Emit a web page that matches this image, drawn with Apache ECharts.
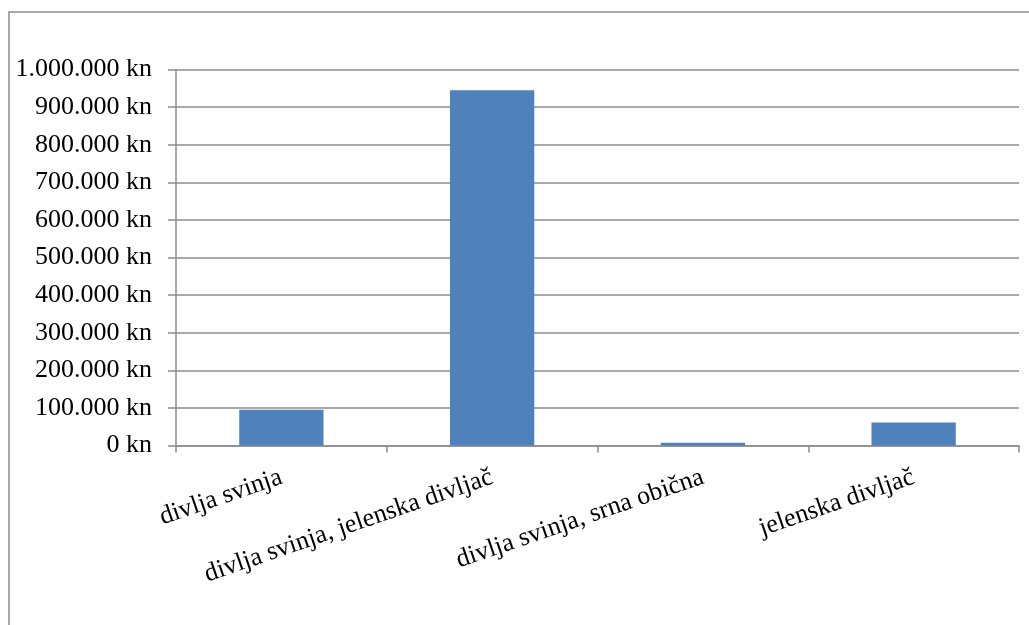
<!DOCTYPE html>
<html>
<head>
<meta charset="utf-8">
<script src="https://cdn.jsdelivr.net/npm/echarts@6/dist/echarts.min.js"></script>
<style>
html,body{margin:0;padding:0;background:#fff;}
#chart{width:1029px;height:625px;}
</style>
</head>
<body>
<div id="chart"></div>
<script>
const categories = ['divlja svinja', 'divlja svinja, jelenska divljač', 'divlja svinja, srna obična', 'jelenska divljač'];
const values = [95000, 945000, 7500, 61500];
const yMin = 0, yMax = 1000000, yStep = 100000;

function fmt(v) {
  return String(Math.round(v)).replace(/\B(?=(\d{3})+(?!\d))/g, '.') + ' kn';
}

const chart = echarts.init(document.getElementById('chart'));
const font = '"Liberation Serif", "Times New Roman", serif';
chart.setOption({
  backgroundColor: '#ffffff',
  animation: false,
  graphic: [{
    type: 'rect',
    shape: { x: 9, y: 12, width: 1200, height: 800 },
    style: { fill: 'none', stroke: '#8c8c8c', lineWidth: 1.5 },
    silent: true
  }],
  grid: { left: 176, right: 10, top: 69.5, bottom: 179.5 },
  xAxis: {
    type: 'category',
    data: categories,
    axisLine: { lineStyle: { color: '#8c8c8c', width: 1.5 } },
    axisTick: { show: true, length: 7, lineStyle: { color: '#8c8c8c', width: 1.5 } },
    axisLabel: {
      rotate: 19, interval: 0, margin: 31,
      fontFamily: font, fontSize: 26, color: '#000'
    }
  },
  yAxis: {
    type: 'value', min: yMin, max: yMax, interval: yStep,
    axisLine: { show: true, lineStyle: { color: '#8c8c8c', width: 1.5 } },
    axisTick: { show: true, length: 8, lineStyle: { color: '#8c8c8c', width: 1.5 } },
    splitLine: { show: true, lineStyle: { color: '#8c8c8c', width: 1.5 } },
    axisLabel: {
      margin: 24, formatter: fmt,
      fontFamily: font, fontSize: 26, color: '#000'
    }
  },
  series: [{
    type: 'bar',
    data: values,
    barCategoryGap: '60%',
    itemStyle: { color: '#4f81bd' }
  }]
});
</script>
</body>
</html>
